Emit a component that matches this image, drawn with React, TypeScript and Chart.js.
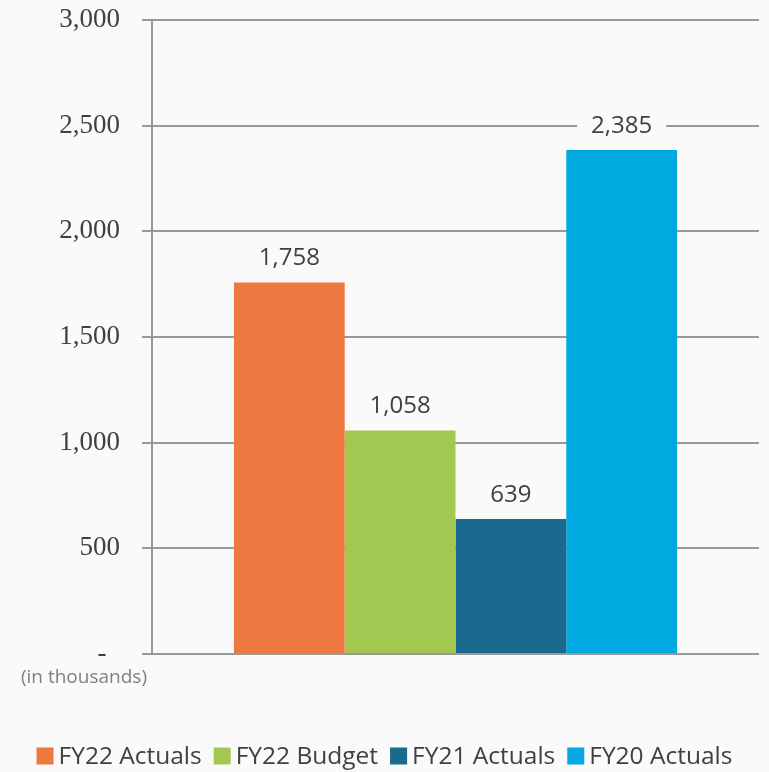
import React, { useEffect, useRef } from 'react';
import { Chart, registerables } from 'chart.js';

Chart.register(...registerables);

const categories = [''];
const seriesNames = ['FY22 Actuals', 'FY22 Budget', 'FY21 Actuals', 'FY20 Actuals'];
const fy22Actuals = [1758];
const fy22Budget = [1058];
const fy21Actuals = [639];
const fy20Actuals = [2385];
const seriesColors = ['#ED7941', '#A3C852', '#1A698E', '#00A9E0'];
const yMin = 0;
const yMax = 3000;
const yStep = 500;
const unitNote = '(in thousands)';

const BG = '#fafafa';
const TEXT = '#404040';
const GRID = '#999999';

const valueLabelPlugin = {
  id: 'valueLabels',
  afterDatasetsDraw(chart: any) {
    const ctx = chart.ctx;
    ctx.save();
    ctx.font = '24px "Open Sans"';
    ctx.textAlign = 'center';
    ctx.textBaseline = 'alphabetic';
    chart.data.datasets.forEach((ds: any, i: number) => {
      const meta = chart.getDatasetMeta(i);
      meta.data.forEach((el: any, j: number) => {
        const v = ds.data[j];
        const txt = Number(v).toLocaleString('en-US');
        const w = ctx.measureText(txt).width;
        const base = el.y - 17;
        ctx.fillStyle = BG;
        ctx.fillRect(el.x - w / 2 - 14, base - 24, w + 28, 30);
        ctx.fillStyle = TEXT;
        ctx.fillText(txt, el.x, base);
      });
    });
    ctx.restore();
  },
};

const notePlugin = {
  id: 'unitNote',
  afterDraw(chart: any) {
    const ctx = chart.ctx;
    const ca = chart.chartArea;
    ctx.save();
    ctx.font = '19px "Open Sans"';
    ctx.fillStyle = '#7f7f7f';
    ctx.textAlign = 'right';
    ctx.textBaseline = 'middle';
    ctx.fillText(unitNote, ca.left - 5, ca.bottom + 24);
    ctx.restore();
  },
};

const legendPlugin = {
  id: 'customLegend',
  afterDraw(chart: any) {
    const ctx = chart.ctx;
    const box = 17;
    const gap = 5;
    const spacing = 12;
    ctx.save();
    ctx.font = '24.5px "Open Sans"';
    ctx.textBaseline = 'middle';
    ctx.textAlign = 'left';
    const items = chart.data.datasets.map((ds: any) => ({
      label: ds.label,
      color: ds.backgroundColor,
      w: ctx.measureText(ds.label).width,
    }));
    const total =
      items.reduce((s: number, it: any) => s + box + gap + it.w, 0) + spacing * (items.length - 1);
    let x = (chart.width - total) / 2;
    const cy = chart.height - 16;
    items.forEach((it: any) => {
      ctx.fillStyle = it.color;
      ctx.fillRect(x, cy - box / 2, box, box);
      ctx.fillStyle = TEXT;
      ctx.fillText(it.label, x + box + gap, cy + 1);
      x += box + gap + it.w + spacing;
    });
    ctx.restore();
  },
};

export default function App() {
  const ref = useRef<HTMLCanvasElement | null>(null);

  useEffect(() => {
    document.body.style.margin = '0';
    document.body.style.background = BG;
    const seriesData = [fy22Actuals, fy22Budget, fy21Actuals, fy20Actuals];
    const chart = new Chart(ref.current as HTMLCanvasElement, {
      type: 'bar',
      data: {
        labels: categories,
        datasets: seriesNames.map((name, i) => ({
          label: name,
          data: seriesData[i],
          backgroundColor: seriesColors[i],
          borderWidth: 0,
          categoryPercentage: 0.73,
          barPercentage: 1,
        })),
      },
      options: {
        animation: false,
        responsive: true,
        maintainAspectRatio: false,
        layout: { padding: { top: 20, right: 10, bottom: 118, left: 0 } },
        plugins: {
          legend: { display: false },
          tooltip: { enabled: false },
        },
        scales: {
          x: { display: false },
          y: {
            min: yMin,
            max: yMax,
            afterFit(scale: any) {
              scale.width = 152;
              scale.paddingTop = 0;
              scale.paddingBottom = 0;
            },
            ticks: {
              stepSize: yStep,
              padding: 22,
              color: TEXT,
              font: { family: '"Liberation Serif", "Times New Roman", serif', size: 27 },
              callback: (v: any) => (Number(v) === 0 ? '-  ' : Number(v).toLocaleString('en-US')),
            },
            grid: { color: GRID, lineWidth: 2, tickLength: 10, drawTicks: true },
            border: { display: true, color: GRID, width: 2 },
          },
        },
      },
      plugins: [valueLabelPlugin, notePlugin, legendPlugin],
    });
    return () => chart.destroy();
  }, []);

  return (
    <div style={{ width: 769, height: 772, position: 'relative', background: BG }}>
      <canvas ref={ref} />
    </div>
  );
}
